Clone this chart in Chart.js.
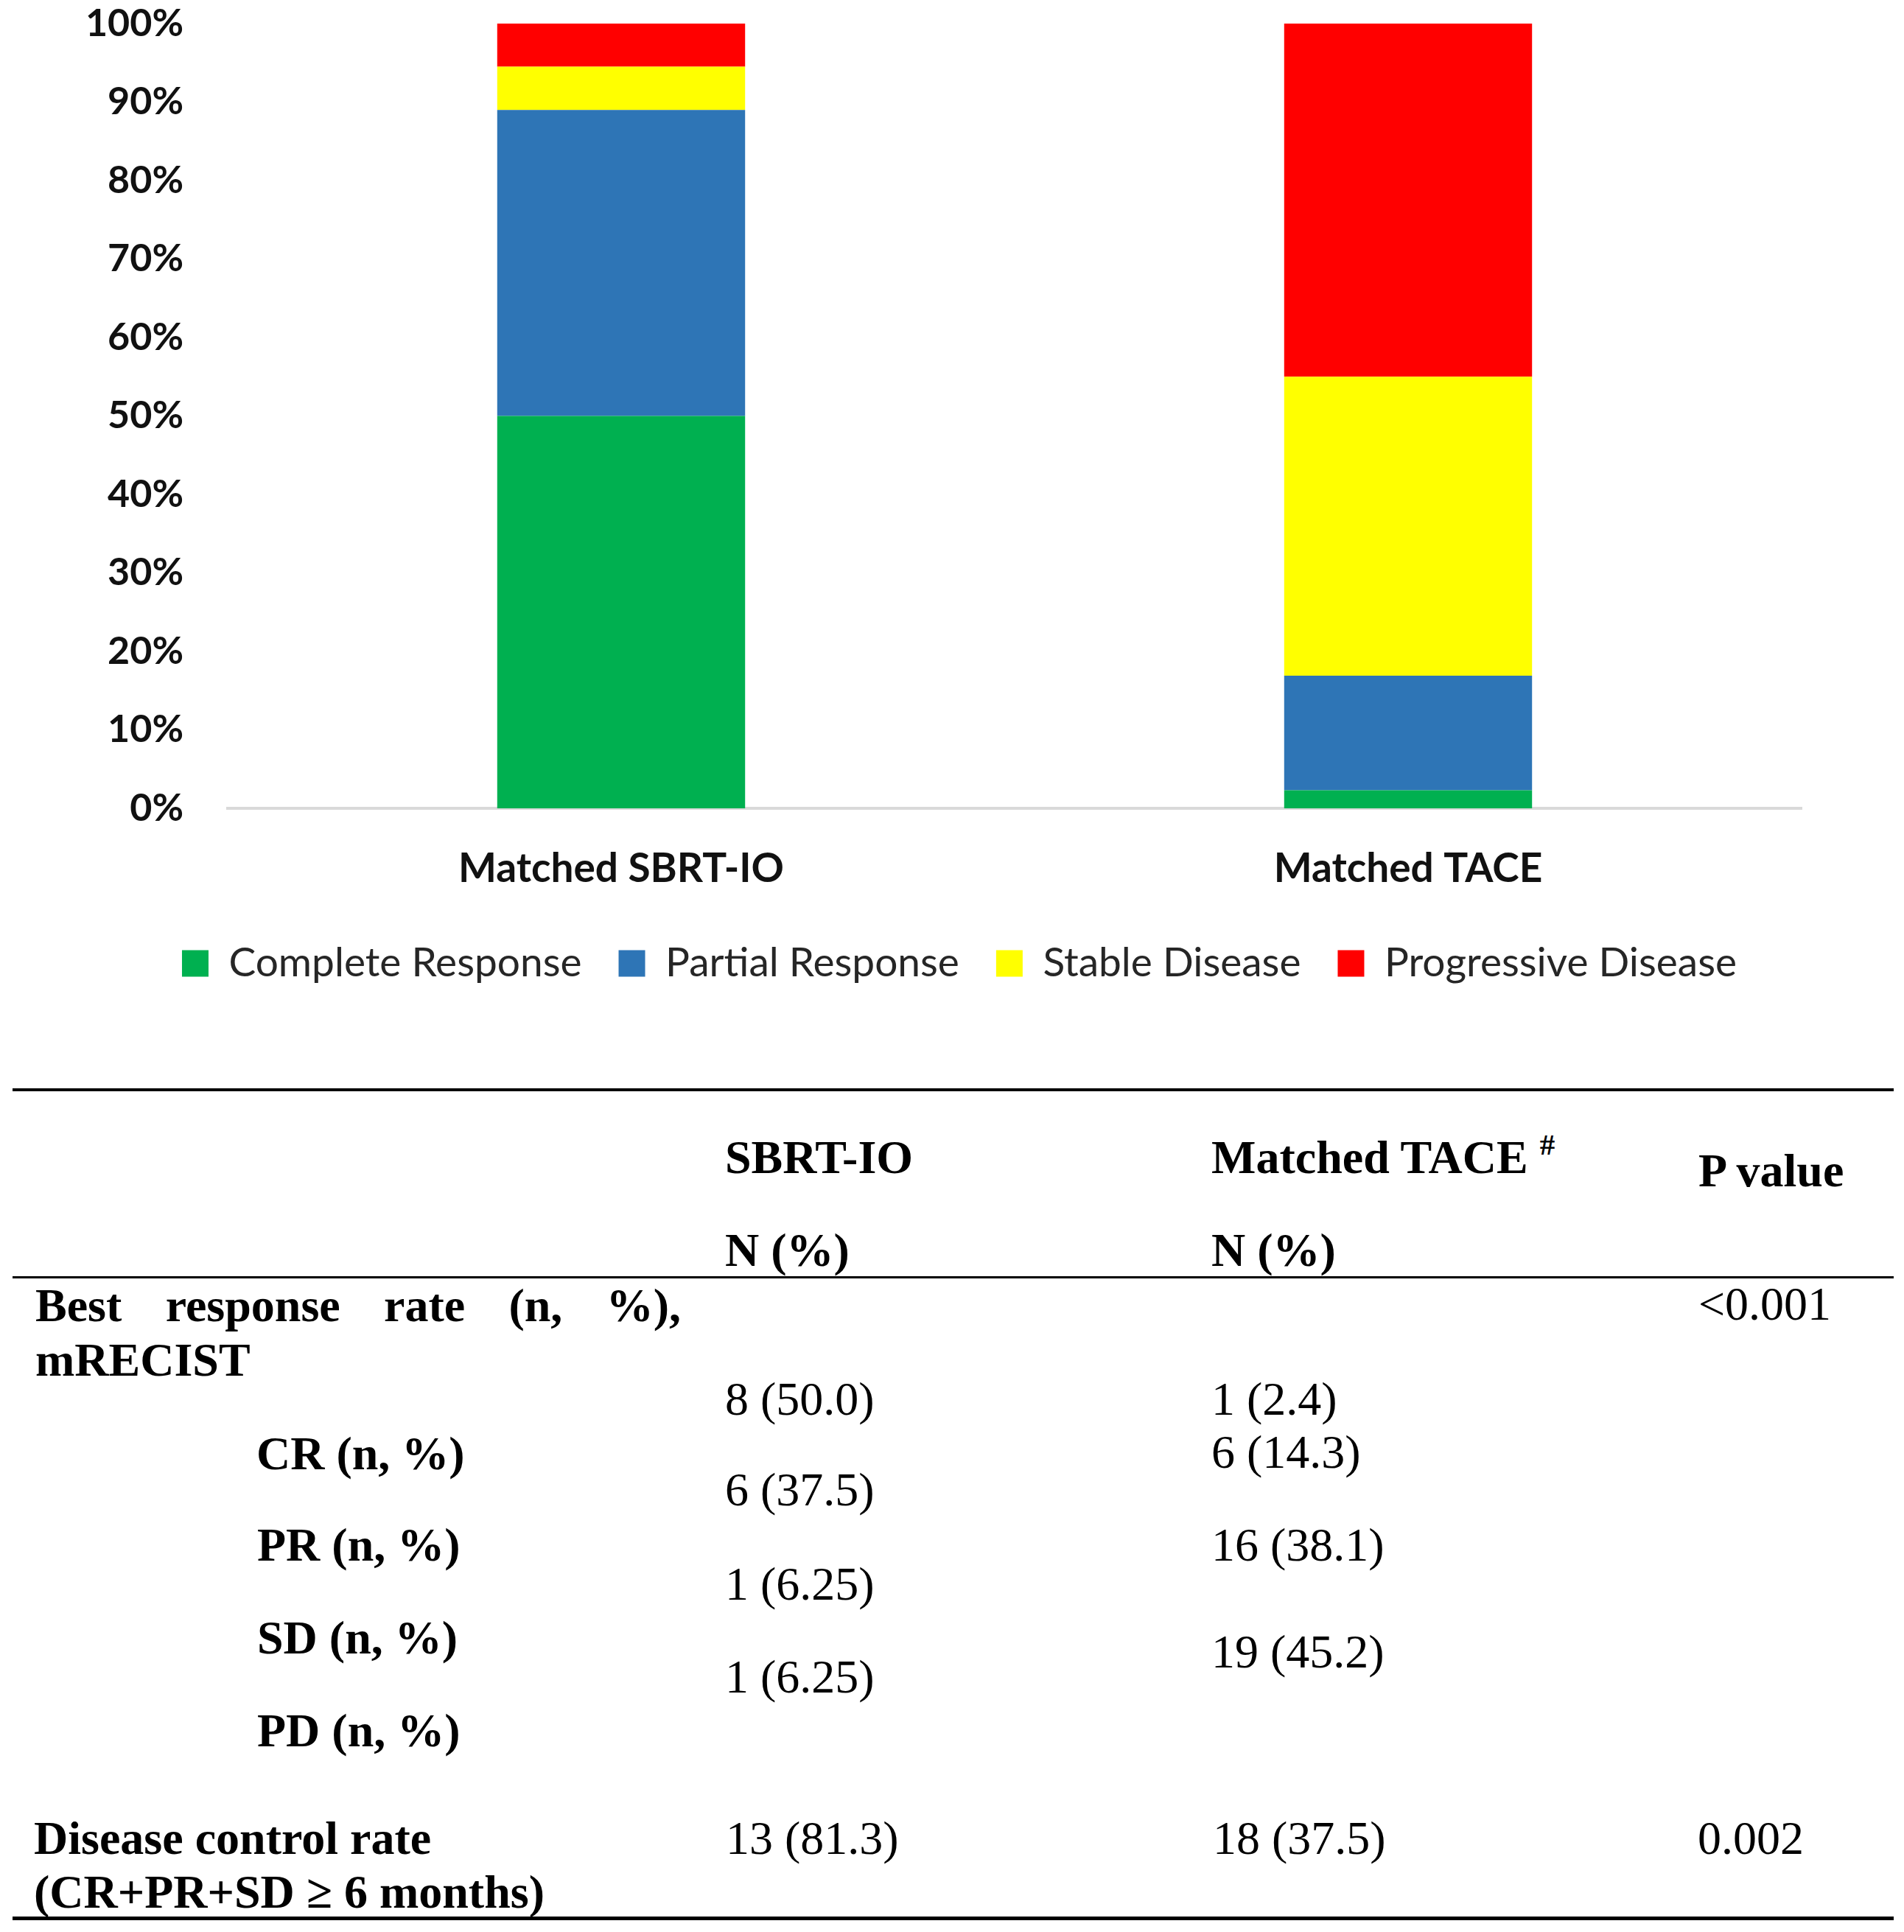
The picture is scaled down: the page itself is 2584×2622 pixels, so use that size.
<!DOCTYPE html>
<html>
<head>
<meta charset="utf-8">
<script src="https://cdn.jsdelivr.net/npm/chart.js@4.4.1/dist/chart.umd.min.js"></script>
<style>
  html, body { margin:0; padding:0; background:#fff; }
  body { width:2584px; height:2622px; position:relative; overflow:hidden; }
  #chartBox { position:absolute; left:0; top:0; width:2584px; height:1420px; }
  .t { position:absolute; font-family:'Liberation Serif','Times New Roman',serif; font-size:64px; line-height:64px; white-space:nowrap; color:#000; }
  .b { font-weight:bold; }
  .just { text-align:justify; text-align-last:justify; }
  .rule { position:absolute; left:17px; width:2553px; background:#000; }
  sup.h { font-size:41px; line-height:0; vertical-align:0; position:relative; top:-25px; }
</style>
</head>
<body>
<div id="chartBox"><canvas id="c"></canvas></div>

<div class="rule" style="top:1477px;height:4px"></div>
<div class="t b" style="left:984px;top:1539px">SBRT-IO</div>
<div class="t b" style="left:1644px;top:1539px">Matched TACE <sup class="h">#</sup></div>
<div class="t b" style="left:2305px;top:1557px">P value</div>
<div class="t b" style="left:984px;top:1665px">N (%)</div>
<div class="t b" style="left:1644px;top:1665px">N (%)</div>
<div class="rule" style="top:1732px;height:3px"></div>

<div class="t b just" style="left:48px;top:1740px;width:876px">Best response rate (n, %),</div>
<div class="t b" style="left:48px;top:1814px">mRECIST</div>
<div class="t" style="left:2305px;top:1738px">&lt;0.001</div>

<div class="t" style="left:984px;top:1867px">8 (50.0)</div>
<div class="t" style="left:1644px;top:1867px">1 (2.4)</div>
<div class="t b" style="left:348px;top:1941px">CR (n, %)</div>
<div class="t" style="left:1644px;top:1939px">6 (14.3)</div>
<div class="t" style="left:984px;top:1990px">6 (37.5)</div>
<div class="t b" style="left:349px;top:2065px">PR (n, %)</div>
<div class="t" style="left:1644px;top:2065px">16 (38.1)</div>
<div class="t" style="left:984px;top:2118px">1 (6.25)</div>
<div class="t b" style="left:349px;top:2191px">SD (n, %)</div>
<div class="t" style="left:1644px;top:2210px">19 (45.2)</div>
<div class="t" style="left:984px;top:2244px">1 (6.25)</div>
<div class="t b" style="left:349px;top:2317px">PD (n, %)</div>

<div class="t b" style="left:46px;top:2463px">Disease control rate</div>
<div class="t" style="left:985px;top:2463px">13 (81.3)</div>
<div class="t" style="left:1646px;top:2463px">18 (37.5)</div>
<div class="t" style="left:2304px;top:2463px">0.002</div>
<div class="t b" style="left:46px;top:2536px">(CR+PR+SD ≥ 6 months)</div>
<div class="rule" style="top:2601px;height:5px"></div>

<script>
const categories = ['Matched SBRT-IO', 'Matched TACE'];
const seriesNames = ['Complete Response', 'Partial Response', 'Stable Disease', 'Progressive Disease'];
const completeResponse = [50.0, 2.3];
const partialResponse = [39.0, 14.6];
const stableDisease = [5.5, 38.1];
const progressiveDisease = [5.5, 45.0];
const yTicks = [0, 10, 20, 30, 40, 50, 60, 70, 80, 90, 100];
const seriesColors = ['#00B050', '#2E75B6', '#FFFF00', '#FF0000'];

const seriesValues = [completeResponse, partialResponse, stableDisease, progressiveDisease];

const legendShift = {
  id: 'legendShift',
  afterLayout(chart) {
    const lg = chart.legend;
    if (!lg) return;
    const d = 1302 - (lg.left + lg.right) / 2;
    lg.left += d;
    lg.right += d;
    if (lg.legendHitBoxes) lg.legendHitBoxes.forEach(h => { h.left += d; });
  }
};

const chart = new Chart(document.getElementById('c'), {
  type: 'bar',
  data: {
    labels: categories,
    datasets: seriesNames.map((name, i) => ({
      label: name,
      data: seriesValues[i],
      backgroundColor: seriesColors[i],
      borderWidth: 0,
      categoryPercentage: 1.0,
      barPercentage: 0.315
    }))
  },
  plugins: [legendShift],
  options: {
    responsive: true,
    maintainAspectRatio: false,
    devicePixelRatio: 1,
    animation: false,
    layout: { padding: { left: 100, right: 139, top: 32, bottom: 75 } },
    plugins: {
      tooltip: { enabled: false },
      legend: {
        position: 'bottom',
        labels: {
          boxWidth: 36,
          boxHeight: 36,
          padding: 50,
          color: '#262626',
          font: { family: 'Lato', size: 55, weight: 'normal' }
        }
      }
    },
    scales: {
      x: {
        stacked: true,
        grid: { display: false, drawTicks: false },
        border: { display: true, color: '#D9D9D9', width: 4 },
        ticks: {
          color: '#111',
          padding: 49,
          font: { family: 'Lato', size: 55, weight: 'bold' }
        },
        afterFit: (axis) => { axis.height = 133; }
      },
      y: {
        stacked: true,
        min: 0,
        max: 100,
        grid: { display: false, drawTicks: false },
        border: { display: false },
        afterBuildTicks: (axis) => { axis.ticks = yTicks.map(v => ({ value: v })); },
        ticks: {
          color: '#111',
          padding: 60,
          font: { family: 'Lato', size: 52, weight: 'bold' },
          callback: (v) => v + '%'
        },
        afterFit: (axis) => { axis.width = 209; axis.paddingTop = 0; axis.paddingBottom = 0; }
      }
    }
  }
});
</script>
</body>
</html>
